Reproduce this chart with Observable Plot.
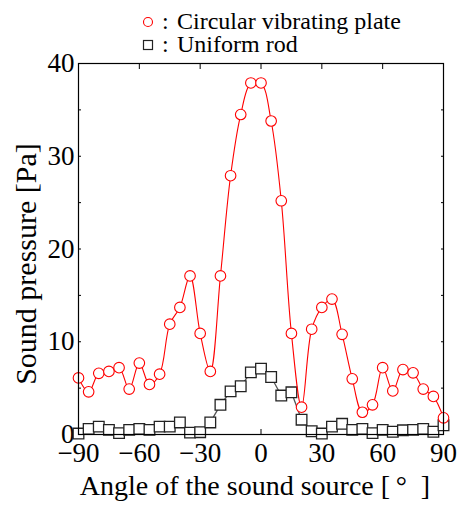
<!DOCTYPE html>
<html>
<head>
<meta charset="utf-8">
<script src="https://cdn.jsdelivr.net/npm/d3@7"></script>
<script src="https://cdn.jsdelivr.net/npm/@observablehq/plot@0.6"></script>
<style>
  body { margin: 0; background: #fff; }
  #wrap { position: relative; width: 460px; height: 509px; font-family: "Liberation Serif", "DejaVu Serif", serif; }
  #wrap svg, #wrap text { font-family: "Liberation Serif", "DejaVu Serif", serif !important; }
  #legend { position: absolute; left: 0; top: 0; }
</style>
</head>
<body>
<div id="wrap"></div>
<script>
const angles = [-90,-85,-80,-75,-70,-65,-60,-55,-50,-45,-40,-35,-30,-25,-20,-15,-10,-5,0,5,10,15,20,25,30,35,40,45,50,55,60,65,70,75,80,85,90];
const plateValues = [6.1,4.6,6.6,6.8,7.2,4.9,7.7,5.4,6.5,11.9,13.7,17.1,10.9,6.8,17.1,27.9,34.5,37.9,37.9,33.8,25.2,10.9,2.95,11.35,13.7,14.6,10.8,6.0,2.4,3.2,7.2,4.7,7.0,6.65,4.9,4.1,1.8];
const rodValues = [0.1,0.6,0.85,0.5,0.15,0.5,0.6,0.5,0.85,0.85,1.3,0.2,0.25,1.3,3.2,4.65,5.2,6.7,7.1,6.2,4.2,4.55,1.6,0.35,0.1,0.85,1.15,0.5,0.6,0.15,0.5,0.3,0.45,0.5,0.6,0.3,1.0];
const xTicks = [-90,-60,-30,0,30,60,90];
const yTicks = [0,10,20,30,40];
const yMinorTicks = [0,5,10,15,20,25,30,35,40];
const legendLabels = ["Circular vibrating plate", "Uniform rod"];
const xLabel = "Angle of the sound source [\u2009°\u2002]";
const yLabel = "Sound pressure [Pa]";

const plate = angles.map((a, i) => ({angle: a, value: plateValues[i]}));
const rod = angles.map((a, i) => ({angle: a, value: rodValues[i]}));

const font = "'Liberation Serif', 'DejaVu Serif', serif";

const chart = Plot.plot({
  width: 460,
  height: 509,
  marginLeft: 78,
  marginRight: 17,
  marginTop: 63,
  marginBottom: 75,
  style: {fontFamily: font, background: "white", color: "black"},
  x: {domain: [-90, 90]},
  y: {domain: [0, 40]},
  marks: [
    Plot.axisX({anchor: "bottom", ticks: xTicks, tickSize: 0, tickPadding: 8, fontSize: 27, label: null}),
    Plot.axisX({anchor: "bottom", ticks: xTicks, tickSize: -5, text: null, label: null, strokeWidth: 1}),
    Plot.axisX({anchor: "top", ticks: xTicks, tickSize: -5, text: null, label: null, strokeWidth: 1}),
    Plot.axisY({anchor: "left", ticks: yTicks, tickSize: 0, tickPadding: 4, fontSize: 27, label: null}),
    Plot.axisY({anchor: "left", ticks: yMinorTicks, tickSize: -3, text: null, label: null}),
    Plot.axisY({anchor: "right", ticks: yMinorTicks, tickSize: -3, text: null, label: null}),
    Plot.line(rod, {x: "angle", y: "value", stroke: "#555", strokeWidth: 1.3}),
    Plot.dot(rod, {x: "angle", y: "value", symbol: "square", r: 6, stroke: "#222", strokeWidth: 1.3, fill: "white"}),
    Plot.line(plate, {x: "angle", y: "value", stroke: "#ff0000", strokeWidth: 1.1, curve: "catmull-rom"}),
    Plot.dot(plate, {x: "angle", y: "value", r: 5.3, stroke: "#ff0000", strokeWidth: 1.1, fill: "white"}),
    Plot.frame({stroke: "black", strokeWidth: 1.2}),
    Plot.text([xLabel], {text: d => d, frameAnchor: "bottom", dx: -6, dy: 60, fontSize: 28, fill: "black"}),
    Plot.text([yLabel], {text: d => d, frameAnchor: "middle", rotate: -90, dx: -235, dy: 15, fontSize: 30, fill: "black"})
  ]
});

const wrap = document.getElementById("wrap");
wrap.appendChild(chart);

// legend overlay
const ns = "http://www.w3.org/2000/svg";
const leg = document.createElementNS(ns, "svg");
leg.setAttribute("id", "legend");
leg.setAttribute("width", 460);
leg.setAttribute("height", 60);
const rows = [
  {y: 29, label: legendLabels[0], kind: "circle"},
  {y: 52, label: legendLabels[1], kind: "square"}
];
rows.forEach(r => {
  if (r.kind === "circle") {
    const c = document.createElementNS(ns, "circle");
    c.setAttribute("cx", 148); c.setAttribute("cy", r.y - 7); c.setAttribute("r", 4.5);
    c.setAttribute("fill", "white"); c.setAttribute("stroke", "#ff0000"); c.setAttribute("stroke-width", 1.1);
    leg.appendChild(c);
  } else {
    const s = document.createElementNS(ns, "rect");
    s.setAttribute("x", 143.5); s.setAttribute("y", r.y - 11.5); s.setAttribute("width", 9); s.setAttribute("height", 9);
    s.setAttribute("fill", "white"); s.setAttribute("stroke", "#222"); s.setAttribute("stroke-width", 1.2);
    leg.appendChild(s);
  }
  const colon = document.createElementNS(ns, "text");
  colon.setAttribute("x", 162); colon.setAttribute("y", r.y);
  colon.setAttribute("font-size", 24); colon.textContent = ":";
  leg.appendChild(colon);
  const t = document.createElementNS(ns, "text");
  t.setAttribute("x", 177); t.setAttribute("y", r.y);
  t.setAttribute("font-size", 24); t.textContent = r.label;
  leg.appendChild(t);
});
wrap.appendChild(leg);
</script>
</body>
</html>
